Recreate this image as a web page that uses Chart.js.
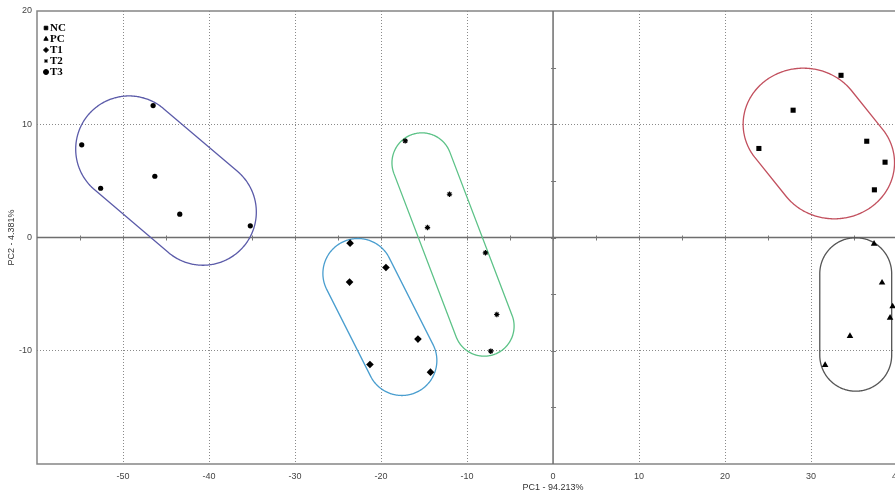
<!DOCTYPE html>
<html>
<head>
<meta charset="utf-8">
<script src="https://cdn.jsdelivr.net/npm/chart.js@4.4.1/dist/chart.umd.min.js"></script>
<style>
  html, body { margin: 0; padding: 0; overflow: hidden; background: #fff; }
  #wrap { width: 901px; height: 494px; position: relative; }
</style>
</head>
<body>
<div id="wrap"><canvas id="pcaChart"></canvas></div>
<script>
// group names and marker styles (legend order)
const groups = ['NC', 'PC', 'T1', 'T2', 'T3'];
const markers = ['rect', 'triangle', 'rectRot', 'star', 'circle'];

// scores (PC1, PC2)
const ncX = [33.48, 27.91, 23.93, 36.47, 38.6, 37.36];
const ncY = [14.32, 11.24, 7.86, 8.5, 6.65, 4.21];
const pcX = [37.32, 38.25, 39.48, 39.18, 34.52, 31.63];
const pcY = [-0.56, -3.99, -6.09, -7.09, -8.71, -11.27];
const t1X = [-23.6, -23.66, -19.43, -15.71, -21.29, -14.25];
const t1Y = [-0.5, -3.94, -2.65, -8.97, -11.21, -11.89];
const t2X = [-17.19, -12.04, -14.6, -7.86, -6.54, -7.24];
const t2Y = [8.53, 3.82, 0.88, -1.35, -6.8, -10.04];
const t3X = [-54.8, -46.5, -52.6, -46.3, -43.4, -35.2];
const t3Y = [8.18, 11.65, 4.35, 5.41, 2.06, 1.03];

// group outlines: capsule between two spine points, with cap radii in axis units
const hullAX = [29.1, 35.19, -22.69, -15.25, -49.3];
const hullAY = [10.0, -3.2, -3.18, 6.59, 7.8];
const hullBX = [32.7, 35.19, -17.58, -8.01, -40.7];
const hullBY = [6.6, -10.39, -10.86, -7.83, 2.25];
const hullRX = [7.0, 4.18, 4.07, 3.48, 6.2];
const hullRY = [4.95, 3.18, 3.09, 2.65, 4.7];
const hullColors = ['#c2505e', '#555555', '#4a9ecf', '#5cc287', '#5b5ba9'];

// tick labels shown on the axes
const xTickLabels = ['-50', '-40', '-30', '-20', '-10', '0', '10', '20', '30', '40'];
const yTickLabels = ['-10', '0', '10', '20'];

const xTitle = 'PC1 - 94.213%';
const yTitle = 'PC2 - 4.381%';

const pairs = (xs, ys) => xs.map((x, i) => ({x: x, y: ys[i]}));
const seriesX = [ncX, pcX, t1X, t2X, t3X];
const seriesY = [ncY, pcY, t1Y, t2Y, t3Y];
const radii = [3.6, 3.8, 3.8, 2.7, 2.6];

const datasets = groups.map((g, i) => ({
  label: g,
  data: pairs(seriesX[i], seriesY[i]),
  pointStyle: markers[i],
  pointRadius: radii[i],
  pointHoverRadius: radii[i],
  backgroundColor: '#000',
  borderColor: '#000',
  borderWidth: markers[i] === 'star' ? 1.2 : 0,
}));

const frameColor = '#858585';

const decorPlugin = {
  id: 'decor',
  beforeDatasetsDraw(chart) {
    const ctx = chart.ctx;
    const a = chart.chartArea;
    const xs = chart.scales.x, ys = chart.scales.y;
    ctx.save();
    // frame (top, left, bottom)
    ctx.strokeStyle = frameColor;
    ctx.lineWidth = 1.5;
    ctx.beginPath();
    ctx.moveTo(a.right + 5, a.top);
    ctx.lineTo(a.left, a.top);
    ctx.lineTo(a.left, a.bottom);
    ctx.lineTo(a.right + 5, a.bottom);
    ctx.stroke();
    // zero axes
    const x0 = xs.getPixelForValue(0), y0 = ys.getPixelForValue(0);
    ctx.strokeStyle = '#6e6e6e';
    ctx.beginPath();
    ctx.moveTo(a.left, y0); ctx.lineTo(a.right, y0);
    ctx.moveTo(x0, a.top); ctx.lineTo(x0, a.bottom);
    ctx.stroke();
    // small ticks on the zero axes
    ctx.lineWidth = 1;
    ctx.strokeStyle = '#777';
    ctx.beginPath();
    for (let v = xs.min + 5; v < xs.max; v += 5) {
      const px = Math.round(xs.getPixelForValue(v)) + 0.5;
      ctx.moveTo(px, y0 - 2); ctx.lineTo(px, y0 + 3);
    }
    for (let v = ys.min + 5; v < ys.max; v += 5) {
      const py = Math.round(ys.getPixelForValue(v)) + 0.5;
      ctx.moveTo(x0 - 2, py); ctx.lineTo(x0 + 3, py);
    }
    ctx.stroke();

    // group outlines
    const ux = Math.abs(xs.getPixelForValue(1) - xs.getPixelForValue(0));
    const uy = Math.abs(ys.getPixelForValue(1) - ys.getPixelForValue(0));
    ctx.lineWidth = 1.3;
    groups.forEach((g, i) => {
      const ax = xs.getPixelForValue(hullAX[i]), ay = ys.getPixelForValue(hullAY[i]);
      const bx = xs.getPixelForValue(hullBX[i]), by = ys.getPixelForValue(hullBY[i]);
      const rx = hullRX[i] * ux, ry = hullRY[i] * uy;
      const dx = bx - ax, dy = by - ay;
      ctx.strokeStyle = hullColors[i];
      ctx.beginPath();
      for (let k = 0; k <= 360; k++) {
        const t = k * Math.PI / 180;
        const c = Math.cos(t), s = Math.sin(t);
        const useB = (c / rx) * dx + (s / ry) * dy >= 0;
        const px = (useB ? bx : ax) + rx * c;
        const py = (useB ? by : ay) + ry * s;
        if (k === 0) ctx.moveTo(px, py); else ctx.lineTo(px, py);
      }
      ctx.closePath();
      ctx.stroke();
    });
    ctx.restore();
  },
  afterDraw(chart) {
    const ctx = chart.ctx;
    const a = chart.chartArea;
    const xs = chart.scales.x;
    ctx.save();
    // axis titles
    ctx.fillStyle = '#333';
    ctx.font = '9px "Liberation Sans", Arial, sans-serif';
    ctx.textAlign = 'center';
    ctx.textBaseline = 'middle';
    ctx.fillText(xTitle, xs.getPixelForValue(0), a.bottom + 24);
    ctx.translate(12, (a.top + a.bottom) / 2);
    ctx.rotate(-Math.PI / 2);
    ctx.fillText(yTitle, 0, 0);
    ctx.restore();

    // legend in the top-left corner
    ctx.save();
    ctx.font = 'bold 11px "Liberation Serif", "Times New Roman", serif';
    ctx.textBaseline = 'middle';
    ctx.textAlign = 'left';
    chart.data.datasets.forEach((ds, i) => {
      const y = a.top + 17 + i * 11;
      ctx.fillStyle = '#000';
      ctx.strokeStyle = '#000';
      ctx.lineWidth = ds.pointStyle === 'star' ? 1 : 0;
      Chart.helpers.drawPoint(ctx, {pointStyle: ds.pointStyle, radius: ds.pointStyle === 'star' ? 2 : 2.5, borderWidth: ctx.lineWidth}, a.left + 9, y);
      ctx.fillStyle = '#000';
      ctx.fillText(ds.label, a.left + 13, y + 0.5);
    });
    ctx.restore();
  }
};

const tickFont = {family: '"Liberation Sans", Arial, sans-serif', size: 9};

const ctx = document.getElementById('pcaChart').getContext('2d');
const chart = new Chart(ctx, {
  type: 'scatter',
  data: { datasets: datasets },
  options: {
    responsive: true,
    maintainAspectRatio: false,
    animation: false,
    layout: { padding: { top: 11, right: 3, left: 0, bottom: 0 } },
    plugins: {
      legend: { display: false },
      tooltip: { enabled: false },
    },
    scales: {
      x: {
        type: 'linear',
        min: -60,
        max: 40,
        afterFit: (s) => { s.height = 30; s.paddingLeft = 0; s.paddingRight = 0; },
        border: { display: false, dash: [1, 2] },
        grid: {
          drawTicks: false,
          lineWidth: 1,
          color: (c) => (c.tick && xTickLabels.includes(String(c.tick.value)) && c.tick.value !== 0) ? '#8a8a8a' : 'rgba(0,0,0,0)',
        },
        ticks: {
          stepSize: 10,
          padding: 7,
          color: '#444',
          font: tickFont,
          maxRotation: 0,
          autoSkip: false,
          callback: (v) => xTickLabels.includes(String(v)) ? String(v) : '',
        },
      },
      y: {
        type: 'linear',
        min: -20,
        max: 20,
        afterFit: (s) => { s.width = 37; s.paddingTop = 0; s.paddingBottom = 0; },
        border: { display: false, dash: [1, 2] },
        grid: {
          drawTicks: false,
          lineWidth: 1,
          color: (c) => (c.tick && (c.tick.value === 10 || c.tick.value === -10)) ? '#8a8a8a' : 'rgba(0,0,0,0)',
        },
        ticks: {
          stepSize: 10,
          padding: 5,
          color: '#444',
          font: tickFont,
          callback: (v) => yTickLabels.includes(String(v)) ? String(v) : '',
        },
      },
    },
  },
  plugins: [decorPlugin],
});
</script>
</body>
</html>
